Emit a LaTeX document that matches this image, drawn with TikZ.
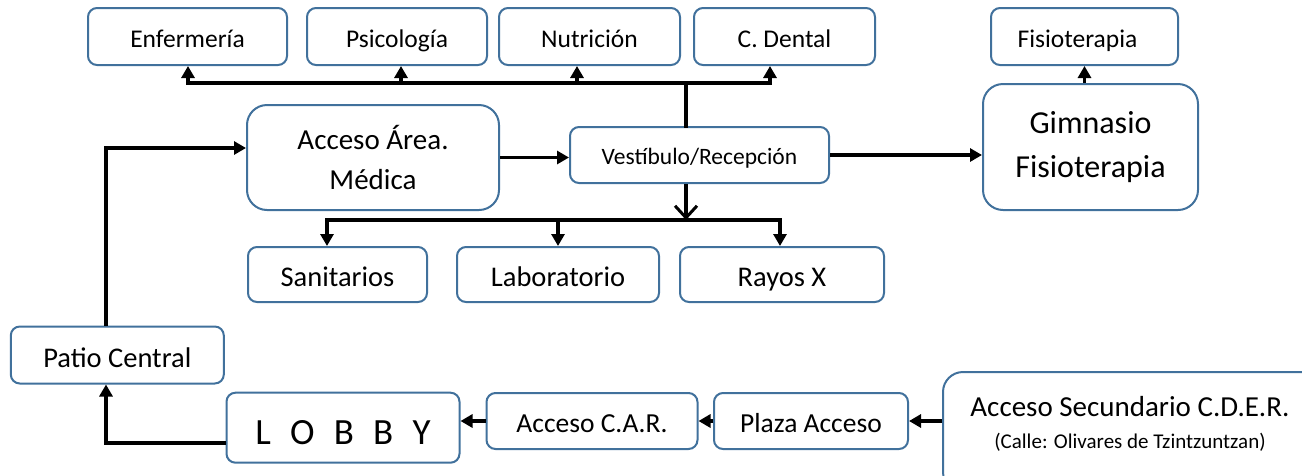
\documentclass[tikz,border=0pt]{standalone}
\usepackage{fontspec}
\setmainfont{Carlito}
\usetikzlibrary{arrows.meta,calc}
\definecolor{bx}{RGB}{65,113,156}
\begin{document}
\begin{tikzpicture}[x=1pt,y=-1pt,
  box/.style={draw=bx, line width=2pt, fill=white, rounded corners=9pt, inner sep=0pt, align=center},
  one/.style={text height=#1pt, text depth={0.1*#1pt}},
  bigbox/.style={box, rounded corners=20pt},
  ftop/.style={font=\fontsize{25.5}{30}\selectfont, one=24},
  fmid/.style={font=\fontsize{28.5}{40}\selectfont, one=27},
  ln/.style={line width=3.5pt, black, line cap=rect},
  arr/.style={line width=3.5pt, black, -{Triangle[length=12pt,width=13pt]}},
  varr/.style={line width=3.5pt, black, -{Straight Barb[length=12pt,width=22pt,line width=3pt]}}
]
\useasboundingbox (0,0) rectangle (1302,475);
\clip (0,0) rectangle (1302,475);

% top row
\node[box,ftop,minimum width=199pt,minimum height=57pt] (enf) at (187.5,36.5) {Enfermería};
\node[box,ftop,minimum width=180pt,minimum height=57pt] (psi) at (397,36.5) {Psicología};
\node[box,ftop,minimum width=181pt,minimum height=57pt] (nut) at (589.5,36.5) {Nutrición};
\node[box,ftop,minimum width=181pt,minimum height=57pt] (den) at (784.5,36.5) {C. Dental};
\node[box,ftop,minimum width=187pt,minimum height=57pt] (fis) at (1084.5,36.5) {Fisioterapia\hspace{14pt}};

% middle
\node[bigbox,font=\fontsize{29}{40}\selectfont,minimum width=252pt,minimum height=105pt] (acc) at (373,157.5) {Acceso Área.\\Médica};
\node[box,font=\fontsize{23.5}{28}\selectfont,one=22,minimum width=259pt,minimum height=56pt] (ves) at (699.5,155) {Vestíbulo/Recepción};
\node[bigbox,font=\fontsize{32}{44}\selectfont,minimum width=215pt,minimum height=126pt] (gim) at (1090.5,147) {Gimnasio\\Fisioterapia};

\node[box,fmid,minimum width=179pt,minimum height=55pt] (san) at (337.5,274.5) {Sanitarios};
\node[box,fmid,minimum width=202pt,minimum height=55pt] (lab) at (558,274.5) {Laboratorio};
\node[box,fmid,minimum width=204pt,minimum height=55pt] (ray) at (782,274.5) {Rayos X};

% bottom
\node[box,fmid,minimum width=213pt,minimum height=57pt] (patio) at (117.3,355) {Patio Central};
\node[box,font=\fontsize{37}{40}\selectfont,text height=37pt,text depth=3pt,minimum width=233pt,minimum height=70pt] (lobby) at (343,427.7) {L\hspace{0.52em}O\hspace{0.52em}B\hspace{0.52em}B\hspace{0.52em}Y};
\node[box,font=\fontsize{27.5}{32}\selectfont,one=26,minimum width=211pt,minimum height=56pt] (car) at (592,421) {Acceso C.A.R.};
\node[box,font=\fontsize{27.5}{32}\selectfont,one=26,minimum width=194pt,minimum height=56pt] (plaza) at (811,421) {Plaza Acceso};
\node[bigbox,minimum width=380pt,minimum height=120pt] (accsec) at (1133,432) {};
\node[font=\fontsize{29}{34}\selectfont] (accsect) at (1130,407) {Acceso Secundario C.D.E.R.};
\node[font=\fontsize{21}{24}\selectfont] (accsecs) at (1130,442) {(Calle: Olivares de Tzintzuntzan)};

% top bus
\coordinate (bj) at (686,83);
\coordinate (t1) at (188,83);
\coordinate (t2) at (401,83);
\coordinate (t3) at (577,83);
\coordinate (t4) at (770,83);
\draw[ln] (t1) -- (t4);
\draw[ln] (bj) -- (bj |- ves.north);
\draw[arr] (t1) -- (t1 |- enf.south);
\draw[arr] (t2) -- (t2 |- psi.south);
\draw[arr] (t3) -- (t3 |- nut.south);
\draw[arr] (t4) -- (t4 |- den.south);

% middle bus
\coordinate (mj) at (686,220);
\coordinate (m1) at (327,220);
\coordinate (m2) at (558,220);
\coordinate (m3) at (780,220);
\draw[ln] (m1) -- (m3);
\draw[varr] (bj |- ves.south) -- (mj);
\draw[arr] (m1) -- (m1 |- san.north);
\draw[arr] (m2) -- (m2 |- lab.north);
\draw[arr] (m3) -- (m3 |- ray.north);

% horizontal flows
\draw[arr] (acc.east) -- (acc.east -| ves.west);
\draw[arr] (ves.east) -- (ves.east -| gim.west);
\draw[arr] (fis.south |- gim.north) -- (fis.south);

% left loop
\coordinate (pu) at (106,148);
\coordinate (lb) at (106,443);
\draw[arr] (patio.north -| pu) -- (pu) -- (pu -| acc.west);
\draw[arr] (lobby.west |- lb) -- (lb) -- (lb |- patio.south);

% bottom chain
\draw[arr] (car.west) -- (car.west -| lobby.east);
\draw[arr] (plaza.west) -- (plaza.west -| car.east);
\draw[arr] (plaza.east -| accsec.west) -- (plaza.east);
\end{tikzpicture}
\end{document}
